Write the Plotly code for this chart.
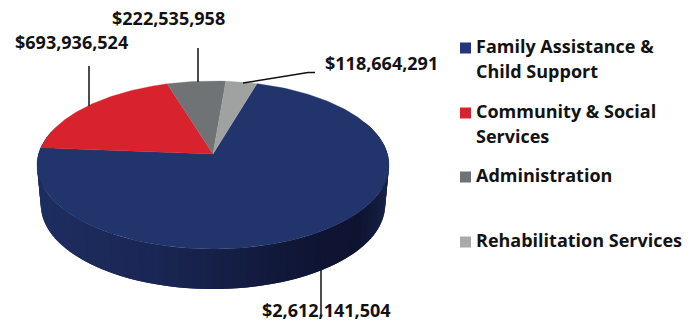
import math
import plotly.graph_objects as go

# Budget shares by program area
categories = ["Family Assistance & Child Support", "Community & Social Services",
              "Administration", "Rehabilitation Services"]
legend_lines = [["Family Assistance &", "Child Support"], ["Community & Social", "Services"],
                ["Administration"], ["Rehabilitation Services"]]
values = [2612141504, 693936524, 222535958, 118664291]
value_labels = ["$2,612,141,504", "$693,936,524", "$222,535,958", "$118,664,291"]
colors = ["#22346c", "#d8232f", "#6f7375", "#a0a1a1"]
swatch_colors = ["#24367a", "#d8232f", "#6f7375", "#a9a9a9"]

# Disc projection: the centre of the pie sits above the centre of its outline
APEX_X, APEX_Y = 213, 154
SCALE_X, SCALE_Y, TILT = 174.5, 82.6, 0.131
DEPTH, BASE_SCALE = 40, 0.978
START_DEG = -85.7  # clock angle where the largest slice ends

TEXT = "#121212"
FONT = "Open Sans"


def project(deg, drop=0.0, scale=1.0):
    """Map a clock angle on the tilted disc to plot coordinates."""
    u = math.sin(math.radians(deg))
    v = math.cos(math.radians(deg))
    w = 1 + TILT * v
    return APEX_X + scale * SCALE_X * u / w, APEX_Y + drop - SCALE_Y * v / w


def wall_color(x):
    """Side wall shading: lighter on the left, darkest towards the right edge."""
    stops = [(37, (30, 45, 96)), (150, (26, 38, 84)), (240, (20, 29, 66)),
             (320, (14, 20, 50)), (360, (14, 20, 48)), (389, (24, 34, 72))]
    for (x0, c0), (x1, c1) in zip(stops, stops[1:]):
        if x <= x1:
            t = max(0.0, (x - x0) / (x1 - x0))
            return "rgb(%d,%d,%d)" % tuple(round(a + (b - a) * t) for a, b in zip(c0, c1))
    return "rgb(24,34,72)"


fig = go.Figure()


def polygon(points, color, line_width=0.0):
    fig.add_trace(go.Scatter(
        x=[p[0] for p in points] + [points[0][0]],
        y=[p[1] for p in points] + [points[0][1]],
        mode="lines", fill="toself", fillcolor=color,
        line=dict(color=color, width=line_width), hoverinfo="skip", showlegend=False))


# Side wall: overlapping strips around the front of the disc, so no gaps show between them
STEP = 2
for deg in range(288, 68, -STEP):
    a = project(deg)
    b = project(deg - STEP * 2)
    c = project(deg - STEP * 2, drop=DEPTH, scale=BASE_SCALE)
    d = project(deg, drop=DEPTH, scale=BASE_SCALE)
    polygon([a, b, c, d], wall_color(a[0]))

# Top face: slices run clockwise from the left edge of the largest one
total = sum(values)
angle = START_DEG - 360 * values[0] / total
for value, color in zip(values, colors):
    sweep = 360 * value / total
    n = max(2, int(sweep))
    rim = [project(angle + sweep * i / n) for i in range(n + 1)]
    polygon([(APEX_X, APEX_Y)] + rim, color, 0.3)
    angle += sweep

# Leader lines from each slice to its value
leaders = [([321, 321], [270, 316]), ([89, 89], [106, 66]),
           ([198, 198], [82, 48]), ([243, 308, 315], [83, 72.5, 72.5])]
for lx, ly in leaders:
    fig.add_trace(go.Scatter(x=lx, y=ly, mode="lines", line=dict(color="#111111", width=1.5),
                             hoverinfo="skip", showlegend=False))

# Value labels
label_pos = [(326.5, 310), (71, 42), (168, 18), (381.5, 63)]
for text, (x, y) in zip(value_labels, label_pos):
    fig.add_annotation(x=x, y=y, text=text, showarrow=False, xanchor="center", yanchor="middle",
                       font=dict(family=FONT, size=18, color=TEXT, weight=700))

# Legend swatches and text
line_ys = [[46, 71], [111, 136], [175], [240]]
for color, lines, ys in zip(swatch_colors, legend_lines, line_ys):
    fig.add_trace(go.Scatter(x=[465.5], y=[ys[0] + 2], mode="markers",
                             marker=dict(symbol="square", size=11, color=color),
                             hoverinfo="skip", showlegend=False))
    for line, y in zip(lines, ys):
        fig.add_annotation(x=474, y=y, text=line, showarrow=False, xanchor="left", yanchor="middle",
                           font=dict(family=FONT, size=18, color=TEXT, weight=700))

fig.update_layout(
    width=699, height=322, margin=dict(l=0, r=0, t=0, b=0),
    paper_bgcolor="white", plot_bgcolor="white", showlegend=False,
    xaxis=dict(range=[0, 699], visible=False, fixedrange=True),
    yaxis=dict(range=[322, 0], visible=False, fixedrange=True),
)
fig.write_html("out.html", config={"displayModeBar": False})
